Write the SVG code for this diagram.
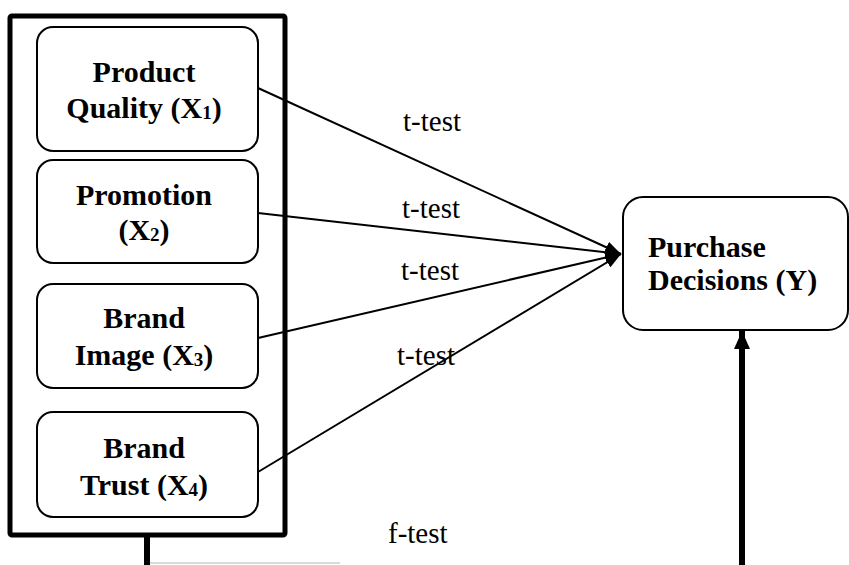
<svg xmlns="http://www.w3.org/2000/svg" width="849" height="565" viewBox="0 0 849 565">
<defs>
<style>
.box{fill:#fff;stroke:#000;stroke-width:2}
.lbl{font-family:"Liberation Serif","Times New Roman",serif;font-weight:bold;font-size:30px;fill:#000;text-anchor:middle}
.sub{font-size:19px}
.tt{font-family:"Liberation Serif","Times New Roman",serif;font-size:29px;fill:#000}
.conn{stroke:#000;stroke-width:2;fill:none}
</style>
<marker id="ah" viewBox="0 0 16 12" refX="16" refY="6" markerWidth="16" markerHeight="12" markerUnits="userSpaceOnUse" orient="auto">
<path d="M0,0 L16,6 L0,12 Z" fill="#000"/>
</marker>
<marker id="ahb" viewBox="0 0 18 16" refX="18" refY="8" markerWidth="18" markerHeight="16" markerUnits="userSpaceOnUse" orient="auto">
<path d="M0,0 L18,8 L0,16 Z" fill="#000"/>
</marker>
</defs>
<rect width="849" height="565" fill="#fff"/>
<g id="group-x">
<rect x="10" y="16" width="275" height="519" fill="none" stroke="#000" stroke-width="5" rx="2"/>
</g>
<g id="x1">
<rect class="box" x="37" y="27" width="221" height="124" rx="16"/>
<text class="lbl" x="144" y="82">Product</text>
<text class="lbl" x="144" y="118">Quality (X<tspan class="sub" dy="1">1</tspan><tspan dy="-1">)</tspan></text>
</g>
<g id="x2">
<rect class="box" x="37" y="160" width="221" height="103" rx="16"/>
<text class="lbl" x="144" y="205">Promotion</text>
<text class="lbl" x="144" y="240">(X<tspan class="sub" dy="1">2</tspan><tspan dy="-1">)</tspan></text>
</g>
<g id="x3">
<rect class="box" x="37" y="284" width="221" height="104" rx="16"/>
<text class="lbl" x="144" y="328">Brand</text>
<text class="lbl" x="144" y="365">Image (X<tspan class="sub" dy="1">3</tspan><tspan dy="-1">)</tspan></text>
</g>
<g id="x4">
<rect class="box" x="37" y="412" width="221" height="105" rx="16"/>
<text class="lbl" x="144" y="458">Brand</text>
<text class="lbl" x="144" y="495">Trust (X<tspan class="sub" dy="1">4</tspan><tspan dy="-1">)</tspan></text>
</g>
<g id="y">
<rect class="box" x="623" y="197" width="225" height="133" rx="20"/>
<text class="lbl" x="648" y="257" text-anchor="start" style="text-anchor:start">Purchase</text>
<text class="lbl" x="648" y="290" style="text-anchor:start">Decisions (Y)</text>
</g>
<g id="connectors">
<line class="conn" x1="258" y1="88" x2="621" y2="254" marker-end="url(#ah)"/>
<line class="conn" x1="258" y1="213" x2="621" y2="254" marker-end="url(#ah)"/>
<line class="conn" x1="258" y1="338" x2="621" y2="254" marker-end="url(#ah)"/>
<line class="conn" x1="258" y1="472" x2="621" y2="254" marker-end="url(#ah)"/>
<line x1="147" y1="535" x2="147" y2="565" stroke="#000" stroke-width="6"/>
<line x1="150" y1="563" x2="340" y2="563" stroke="#ccc" stroke-width="1.5"/>
<line x1="742" y1="565" x2="742" y2="331" stroke="#000" stroke-width="6" marker-end="url(#ahb)"/>
</g>
<g id="labels">
<text class="tt" x="403" y="131">t-test</text>
<text class="tt" x="402" y="218">t-test</text>
<text class="tt" x="401" y="280">t-test</text>
<text class="tt" x="397" y="365">t-test</text>
<text class="tt" x="388" y="543">f-test</text>
</g>
</svg>
